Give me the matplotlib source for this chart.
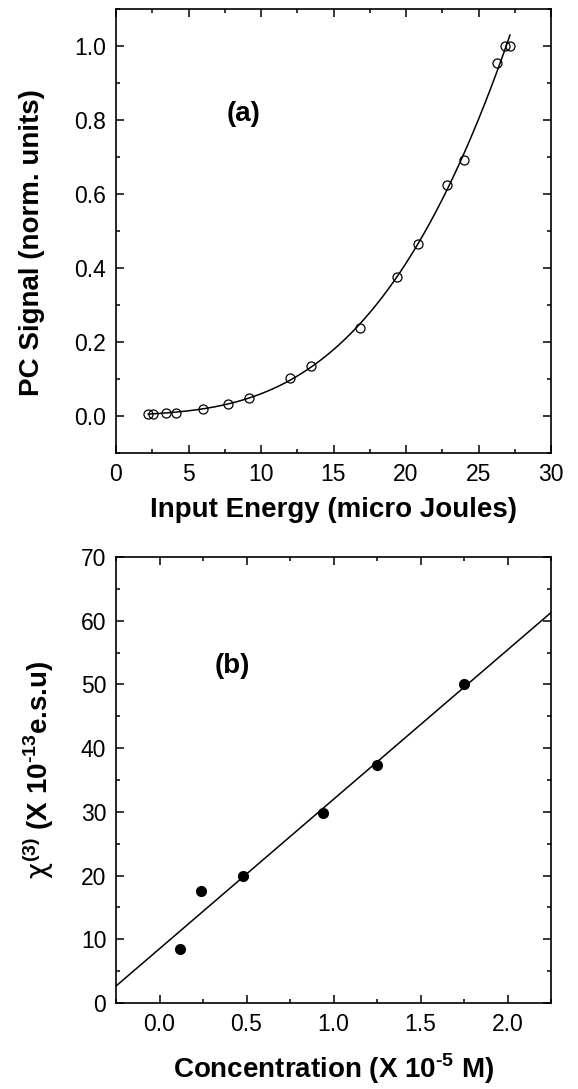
import numpy as np
import matplotlib
matplotlib.use("Agg")
import matplotlib.pyplot as plt
from matplotlib.ticker import MultipleLocator

plt.rcParams['font.family'] = ['Liberation Sans', 'DejaVu Sans']
plt.rcParams['mathtext.fontset'] = 'custom'
plt.rcParams['mathtext.rm'] = 'Liberation Sans'
plt.rcParams['mathtext.it'] = 'DejaVu Sans'
plt.rcParams['mathtext.bf'] = 'Liberation Sans:bold'

# Panel (a) data
energy = [2.22, 2.58, 3.42, 4.16, 6.0, 7.70, 9.16, 11.99, 13.44, 16.84,
          19.41, 20.82, 22.83, 23.98, 26.25, 26.81, 27.17]
pc_signal = [0.005, 0.006, 0.008, 0.009, 0.020, 0.033, 0.048, 0.102, 0.135,
             0.237, 0.377, 0.464, 0.625, 0.693, 0.955, 1.0, 1.0]

# Panel (b) data
conc = [0.12, 0.24, 0.48, 0.94, 1.25, 1.75]
chi3 = [8.5, 17.6, 20.0, 29.8, 37.3, 50.0]

W, H = 578, 1089
fig = plt.figure(figsize=(W / 100, H / 100), dpi=100)

def px_axes(left, top, right, bottom):
    return fig.add_axes([left / W, 1 - bottom / H, (right - left) / W, (bottom - top) / H])

axa = px_axes(116, 9, 551, 453)
axb = px_axes(116, 557, 551, 1003)

def style(ax):
    for s in ax.spines.values():
        s.set_linewidth(1.2)
    ax.tick_params(which='both', direction='in', top=True, right=True,
                   labelsize=16.5, width=1.1, pad=7)
    ax.tick_params(which='major', length=5.5)
    ax.tick_params(which='minor', length=3)

# (a)
ea = np.array(energy)
pa = np.array(pc_signal)
coef = np.polyfit(ea, pa, 3)
xf = np.linspace(ea.min(), ea.max(), 300)
axa.plot(xf, np.polyval(coef, xf), color='black', lw=1.1)
axa.plot(ea, pa, 'o', mfc='none', mec='black', ms=6.5, mew=0.9)
axa.set_xlim(0, 30)
axa.set_ylim(-0.1, 1.1)
axa.xaxis.set_major_locator(MultipleLocator(5))
axa.xaxis.set_minor_locator(MultipleLocator(2.5))
axa.yaxis.set_minor_locator(MultipleLocator(0.1))
axa.set_yticks([0.0, 0.2, 0.4, 0.6, 0.8, 1.0])
axa.set_yticklabels(['0.0', '0.2', '0.4', '0.6', '0.8', '1.0'])
style(axa)
axa.set_xlabel('Input Energy (micro Joules)', fontsize=20, fontweight='bold')
axa.xaxis.label.set_va('center')
axa.xaxis.set_label_coords(0.5, -0.128)
axa.set_ylabel('PC Signal (norm. units)', fontsize=20, fontweight='bold')
axa.yaxis.label.set_va('center')
axa.yaxis.set_label_coords(-(116 - 32) / 435, 0.475)
axa.text(8.8, 0.817, '(a)', fontsize=20, fontweight='bold', ha='center', va='center')

# (b)
cb = np.array(conc)
yb = np.array(chi3)
cfb = np.polyfit(cb, yb, 1)
xl = np.array([-0.25, 2.25])
axb.plot(xl, np.polyval(cfb, xl), color='black', lw=1.1)
axb.plot(cb, yb, 'o', color='black', ms=7)
axb.set_xlim(-0.25, 2.25)
axb.set_ylim(0, 70)
axb.xaxis.set_minor_locator(MultipleLocator(0.25))
axb.yaxis.set_major_locator(MultipleLocator(10))
axb.yaxis.set_minor_locator(MultipleLocator(5))
axb.set_xticks([0.0, 0.5, 1.0, 1.5, 2.0])
axb.set_xticklabels(['0.0', '0.5', '1.0', '1.5', '2.0'])
style(axb)
axb.set_xlabel('Concentration (X 10$^{\\mathbf{\u20105}}$ M)', fontsize=20, fontweight='bold')
axb.xaxis.label.set_va('center')
axb.xaxis.set_label_coords(0.5, -0.148)
axb.set_ylabel('$\\chi^{\\mathbf{(3)}}$ (X 10$^{\\mathbf{\u201013}}$e.s.u)', fontsize=20, fontweight='bold')
axb.yaxis.label.set_va('center')
axb.yaxis.set_label_coords(-(116 - 38) / 435, 0.522)
axb.text(0.42, 52.9, '(b)', fontsize=20, fontweight='bold', ha='center', va='center')

fig.savefig('out.png', dpi=100)
